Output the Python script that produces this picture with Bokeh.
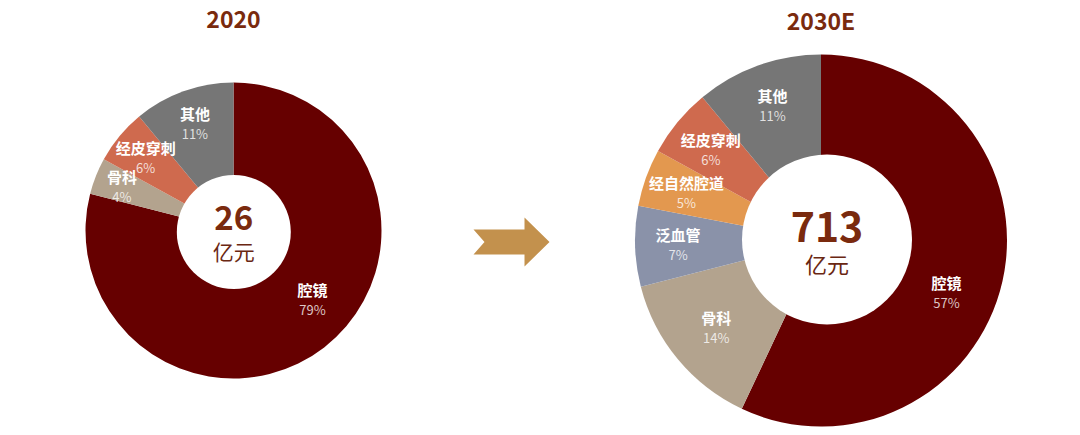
import math
from bokeh.plotting import figure
from bokeh.models import Range1d, ColumnDataSource
from bokeh.embed import file_html
from bokeh.resources import INLINE
from bokeh.core.properties import value

# ---------------- data ----------------
years = ["2020", "2030E"]
totals = ["26", "713"]
unit = "亿元"

cats_2020 = ["腔镜", "骨科", "经皮穿刺", "其他"]
share_2020 = [79, 4, 6, 11]

cats_2030 = ["腔镜", "骨科", "泛血管", "经自然腔道", "经皮穿刺", "其他"]
share_2030 = [57, 14, 7, 5, 6, 11]

# ---------------- styles / layout ----------------
COLORS = {
    "腔镜": "#660000",
    "骨科": "#b3a38e",
    "泛血管": "#8a92a9",
    "经自然腔道": "#e3984f",
    "经皮穿刺": "#cf6a4e",
    "其他": "#767676",
}
TITLE_COLOR = "#7a2a0e"
UNIT_COLOR = "#6a2712"
ARROW_COLOR = "#c3914d"
FONT = "Noto Sans CJK SC"

W, H = 1080, 435


def sy(y):
    """screen y -> data y"""
    return H - y


p = figure(width=W, height=H, x_range=Range1d(0, W), y_range=Range1d(0, H),
           output_backend="svg", toolbar_location=None, min_border=0,
           background_fill_color="white", border_fill_color="white")
p.axis.visible = False
p.grid.visible = False
p.outline_line_color = None

# layout per donut: center, outer radius, hole center & radius, label radius, label tweaks
LAYOUT = [
    dict(cx=233, cy=230, r=148, hx=233.3, hy=231.5, hr=57, lab_r=114,
         nudge={"腔镜": -11}, rad={"腔镜": 105, "骨科": 120}, title_y=19,
         total_size="33px", unit_size="21px", total_dy=-15, unit_dy=19),
    dict(cx=820.5, cy=240, r=186, hx=826.5, hy=239, hr=85, lab_r=143,
         nudge={"腔镜": 10}, rad={"腔镜": 136, "骨科": 136}, title_y=19,
         total_size="41px", unit_size="22px", total_dy=-13, unit_dy=23),
]


def donut(cats, shares, year, total, L):
    start, end, names, pcts, lx, ly, colors = [], [], [], [], [], [], []
    cum = 0.0
    tot = float(sum(shares))
    for c, s in zip(cats, shares):
        a0 = cum / tot
        a1 = (cum + s) / tot
        cum += s
        start.append(math.pi / 2 - 2 * math.pi * a0)
        end.append(math.pi / 2 - 2 * math.pi * a1)
        colors.append(COLORS[c])
        mid = (a0 + a1) / 2 * 360 + L["nudge"].get(c, 0)  # clockwise from top, degrees
        ang = math.radians(mid)
        rr = L["rad"].get(c, L["lab_r"])
        lx.append(L["cx"] + rr * math.sin(ang))
        ly.append(sy(L["cy"] - rr * math.cos(ang)))
        names.append(c)
        pcts.append(f"{s}%")
    src = ColumnDataSource(dict(start=start, end=end, color=colors, name=names,
                                pct=pcts, lx=lx, ly=ly,
                                ny=[y + 10 for y in ly], py=[y - 10 for y in ly]))
    p.wedge(x=L["cx"], y=sy(L["cy"]), radius=L["r"], start_angle="start", end_angle="end",
            direction="clock", fill_color="color", line_color=None, source=src)
    # hole
    p.circle(x=[L["hx"]], y=[sy(L["hy"])], radius=L["hr"], fill_color="white", line_color=None)
    # slice labels
    p.text(x="lx", y="ny", text="name", source=src, text_color="white",
           text_font=value(FONT), text_font_style="bold", text_font_size="15px",
           text_align="center", text_baseline="middle")
    p.text(x="lx", y="py", text="pct", source=src, text_color="white", text_alpha=0.78,
           text_font=value(FONT), text_font_size="13px",
           text_align="center", text_baseline="middle")
    # center texts
    p.text(x=[L["hx"]], y=[sy(L["hy"] + L["total_dy"])], text=[total], text_color=TITLE_COLOR,
           text_font=value(FONT), text_font_style="bold", text_font_size=L["total_size"],
           text_align="center", text_baseline="middle")
    p.text(x=[L["hx"]], y=[sy(L["hy"] + L["unit_dy"])], text=[unit], text_color=UNIT_COLOR,
           text_font=value(FONT), text_font_size=L["unit_size"],
           text_align="center", text_baseline="middle")
    # title
    p.text(x=[L["cx"]], y=[sy(L["title_y"])], text=[year], text_color=TITLE_COLOR,
           text_font=value(FONT), text_font_style="bold", text_font_size="23px",
           text_align="center", text_baseline="middle")


donut(cats_2020, share_2020, years[0], totals[0], LAYOUT[0])
donut(cats_2030, share_2030, years[1], totals[1], LAYOUT[1])

# arrow (decorative shape)
arrow_x = [473, 524, 524, 549, 524, 524, 473, 484]
arrow_y = [229, 229, 217, 241.5, 266, 254, 254, 241.5]
p.patch(x=arrow_x, y=[sy(v) for v in arrow_y], fill_color=ARROW_COLOR, line_color=None)

open("out.html", "w").write(file_html(p, INLINE))
